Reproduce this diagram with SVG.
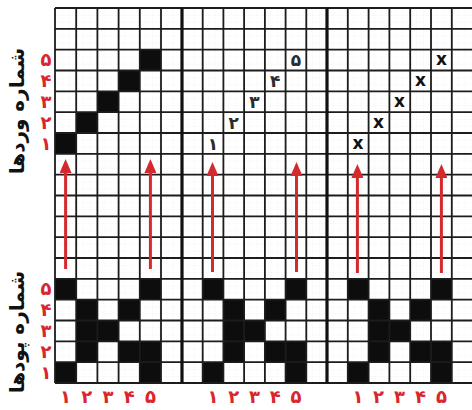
<svg xmlns="http://www.w3.org/2000/svg" width="472" height="410" viewBox="0 0 472 410">
<style>
.grid{fill:none;stroke:#1c1c1c;stroke-width:1.8}
.thick{fill:none;stroke:#111;stroke-width:3.2}
.blk{fill:#0d0d0d}
.red{fill:#d9262c;font-family:"DejaVu Sans",sans-serif;font-weight:bold;font-size:18px;text-anchor:middle}
.num{fill:#2a2a2a;font-family:"DejaVu Sans",sans-serif;font-weight:bold;font-size:17px;text-anchor:middle}
.xm{fill:#111;font-family:"DejaVu Sans",sans-serif;font-weight:bold;font-size:17px;text-anchor:middle}
.title{fill:#111;font-family:"DejaVu Sans",sans-serif;font-weight:bold;font-size:20px;text-anchor:middle}
.arr{stroke:#d42a2e;stroke-width:3;fill:none;marker-end:url(#ah)}
</style>
<defs>
<pattern id="sub" patternUnits="userSpaceOnUse" x="55" y="8" width="6.944" height="6.944">
<path d="M0 0.3H6.944M0.3 0V6.944" stroke="#e4e4e4" stroke-width="0.5" stroke-dasharray="1 1.5" fill="none"/>
</pattern>
<marker id="ah" viewBox="0 0 14 12" refX="1" refY="6" markerWidth="14" markerHeight="12" markerUnits="userSpaceOnUse" orient="auto">
<path d="M0 0L14 6L0 12z" fill="#d42a2e"/>
</marker>
<g id="weave">
<rect x="0" y="0" width="1" height="1"/>
<rect x="0" y="4" width="1" height="1"/>
<rect x="1" y="1" width="1" height="3"/>
<rect x="2" y="2" width="1" height="1"/>
<rect x="3" y="1" width="1" height="1"/>
<rect x="3" y="3" width="1" height="1"/>
<rect x="4" y="0" width="1" height="1"/>
<rect x="4" y="3" width="1" height="2"/>
</g>
</defs>
<rect width="472" height="410" fill="#fff"/>
<rect x="55" y="8" width="417" height="375" fill="url(#sub)"/>

<g id="panel1">
<g class="blk">
<rect x="55" y="133" width="21.2" height="20.83"/>
<rect x="76.2" y="112.17" width="21.2" height="20.83"/>
<rect x="97.4" y="91.33" width="21.2" height="20.83"/>
<rect x="118.6" y="70.5" width="21.2" height="20.83"/>
<rect x="139.8" y="49.67" width="21.2" height="20.83"/>
<use href="#weave" transform="translate(55 278.83) scale(21.2 20.833)"/>
</g>
</g>
<g id="panel2">
<g class="blk"><use href="#weave" transform="translate(202.7 278.83) scale(20.72 20.833)"/></g>
<g class="num">
<text x="213" y="150">۱</text>
<text x="233.8" y="129">۲</text>
<text x="254.5" y="108">۳</text>
<text x="275.2" y="87">۴</text>
<text x="296" y="66">۵</text>
</g>
</g>
<g id="panel3">
<g class="blk"><use href="#weave" transform="translate(347.8 278.83) scale(20.8 20.833)"/></g>
<g class="xm">
<text x="358" y="149">x</text>
<text x="378.6" y="128">x</text>
<text x="399.4" y="107">x</text>
<text x="420.6" y="86">x</text>
<text x="441.4" y="65">x</text>
</g>
</g>

<g id="gridlines">
<path class="grid" d="M55 8V383M76.2 8V383M97.4 8V383M118.6 8V383M139.8 8V383M161 8V383M202.7 8V383M223.4 8V383M244.1 8V383M264.9 8V383M285.6 8V383M306.3 8V383M347.8 8V383M368.6 8V383M389.4 8V383M410.2 8V383M431 8V383M451.8 8V383
M55 8H472M55 28.83H472M55 49.67H472M55 70.5H472M55 91.33H472M55 112.17H472M55 133H472M55 153.83H472M55 174.67H472M55 195.5H472M55 216.33H472M55 237.17H472M55 258H472M55 278.83H472M55 299.67H472M55 320.5H472M55 341.33H472M55 362.17H472M55 383H472"/>
<path class="thick" d="M182 8V383M327 8V383"/>
</g>

<g id="connectors">
<line class="arr" x1="65.6" y1="269" x2="65.6" y2="172"/>
<line class="arr" x1="150.4" y1="269" x2="150.4" y2="172"/>
<line class="arr" x1="212.5" y1="272" x2="212.5" y2="175"/>
<line class="arr" x1="296.5" y1="272" x2="296.5" y2="175"/>
<line class="arr" x1="357.4" y1="273" x2="357.4" y2="177"/>
<line class="arr" x1="441.4" y1="273" x2="441.4" y2="177"/>
</g>

<g id="labels">
<g class="red">
<text x="46" y="66">۵</text>
<text x="46" y="87">۴</text>
<text x="46" y="108">۳</text>
<text x="46" y="129">۲</text>
<text x="46" y="150">۱</text>
<text x="46" y="295">۵</text>
<text x="46" y="316">۴</text>
<text x="46" y="337">۳</text>
<text x="46" y="358">۲</text>
<text x="46" y="379">۱</text>
<text x="65.6" y="403">۱</text>
<text x="86.8" y="403">۲</text>
<text x="108" y="403">۳</text>
<text x="129.2" y="403">۴</text>
<text x="150.4" y="403">۵</text>
<text x="213" y="403">۱</text>
<text x="233.8" y="403">۲</text>
<text x="254.5" y="403">۳</text>
<text x="275.2" y="403">۴</text>
<text x="296" y="403">۵</text>
<text x="358" y="403">۱</text>
<text x="378.6" y="403">۲</text>
<text x="399.4" y="403">۳</text>
<text x="420.6" y="403">۴</text>
<text x="441.4" y="403">۵</text>
</g>
<text class="title" transform="translate(24 111) rotate(-90)">شماره وردها</text>
<text class="title" transform="translate(24 332) rotate(-90)">شماره پودها</text>
</g>
</svg>
